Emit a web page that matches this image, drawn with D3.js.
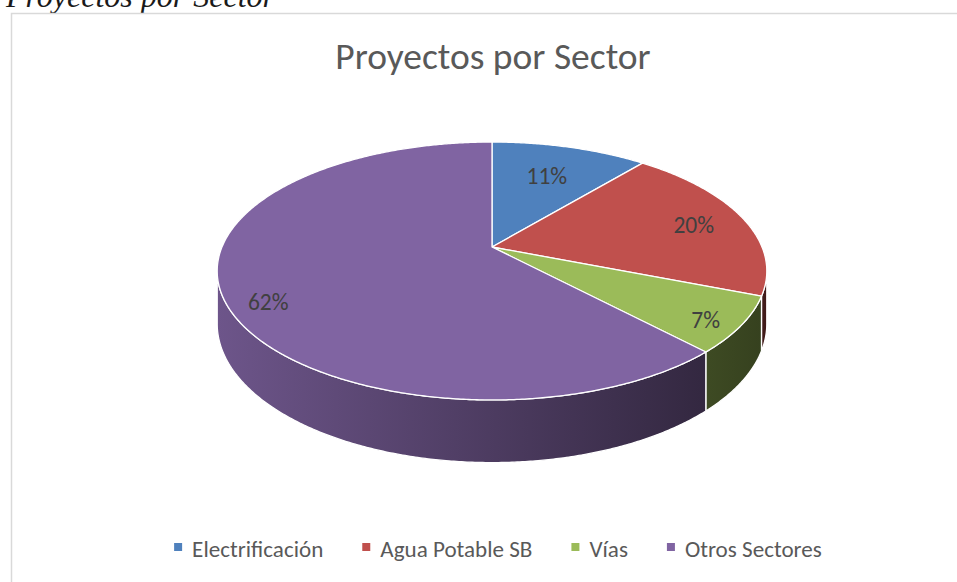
<!DOCTYPE html>
<html>
<head>
<meta charset="utf-8">
<script src="https://cdn.jsdelivr.net/npm/d3@7"></script>
<style>
  html, body { margin: 0; padding: 0; background: #fff; }
  svg { display: block; }
</style>
</head>
<body>
<svg id="chart" width="957" height="582"></svg>
<script>
(() => {
  const categories = ["Electrificación", "Agua Potable SB", "Vías", "Otros Sectores"];
  const values     = [11, 20, 7, 62];
  const colors     = ["#4f81bd", "#c0504d", "#9bbb59", "#8064a2"];
  // label placement inside the slices (fraction of radius, vertical nudge)
  const labelR  = [0.67, 0.80, 0.87, 0.84];
  const labelDy = [-1, 2, 6, 14];

  const svg = d3.select("#chart");
  const W = 957, H = 582;
  const FONT = "Carlito, Lato, 'Open Sans', sans-serif";

  // caption above the chart, cut by the top edge
  svg.append("text")
    .attr("x", 6).attr("y", 7)
    .attr("font-family", "'Liberation Serif', 'DejaVu Serif', serif")
    .attr("font-style", "italic")
    .attr("font-size", 32)
    .attr("fill", "#1a1a1a")
    .text("Proyectos por Sector");

  // chart frame (right / bottom edges fall outside the picture)
  svg.append("rect")
    .attr("x", 11.5).attr("y", 13.5)
    .attr("width", W + 20).attr("height", H + 20)
    .attr("fill", "#fff")
    .attr("stroke", "#d9d9d9")
    .attr("stroke-width", 1.5);

  svg.append("text")
    .attr("x", 493).attr("y", 69)
    .attr("text-anchor", "middle")
    .attr("font-family", FONT)
    .attr("font-size", 37.5)
    .attr("fill", "#595959")
    .text("Proyectos por Sector");

  // ---- 3D pie geometry (simple perspective) ----
  const cx = 492, cy = 247;
  const A = 270, B = 124.5;   // half axes of the unit disk
  const P = 0.186;            // perspective strength
  const DEPTH = 51;           // wall height

  const xScale = d3.scaleLinear().domain([-1, 1]).range([cx - A, cx + A]);
  const yScale = d3.scaleLinear().domain([-1, 1]).range([cy - B, cy + B]);

  function proj(a, r, h) {
    const u = -Math.cos(a) * r;
    const w = 1 / (1 - P * u);
    return [xScale(Math.sin(a) * r * w), yScale(u * w) + h * DEPTH * w];
  }

  function arcPts(a0, a1, h) {
    const n = Math.max(2, Math.ceil(Math.abs(a1 - a0) / 0.008));
    return d3.range(n + 1).map(i => proj(a0 + (a1 - a0) * i / n, 1, h));
  }

  const pie = d3.pie().sort(null).value(d => d);
  const arcs = pie(values);

  const line = d3.line().curve(d3.curveLinearClosed);

  // silhouette angles of the wall
  const sil1 = Math.acos(-P), sil2 = 2 * Math.PI - sil1;
  const wMax = 1 / Math.sqrt(1 - P * P);
  const xLeft = xScale(-wMax), xRight = xScale(wMax);

  const defs = svg.append("defs");
  arcs.forEach((d, i) => {
    const base = d3.rgb(colors[i]);
    const shade = f => d3.rgb(base.r * f, base.g * f, base.b * f).formatHex();
    const g = defs.append("linearGradient")
      .attr("id", "side" + i)
      .attr("gradientUnits", "userSpaceOnUse")
      .attr("x1", xLeft).attr("x2", xRight)
      .attr("y1", 0).attr("y2", 0);
    g.append("stop").attr("offset", 0).attr("stop-color", shade(0.85));
    g.append("stop").attr("offset", 1).attr("stop-color", shade(0.34));
  });

  // walls
  const sides = svg.append("g");
  arcs.forEach((d, i) => {
    const a0 = Math.max(d.startAngle, sil1), a1 = Math.min(d.endAngle, sil2);
    if (a1 <= a0) return;
    const pts = arcPts(a0, a1, 0).concat(arcPts(a1, a0, 1));
    sides.append("path")
      .attr("d", line(pts))
      .attr("fill", `url(#side${i})`)
      .attr("stroke", "#fff")
      .attr("stroke-width", 1.3)
      .attr("stroke-linejoin", "round");
  });

  // top faces
  const tops = svg.append("g");
  arcs.forEach((d, i) => {
    const pts = [proj(0, 0, 0)].concat(arcPts(d.startAngle, d.endAngle, 0));
    tops.append("path")
      .attr("d", line(pts))
      .attr("fill", colors[i])
      .attr("stroke", "#fff")
      .attr("stroke-width", 1.3)
      .attr("stroke-linejoin", "round");
  });

  // percentage labels
  const total = d3.sum(values);
  arcs.forEach((d, i) => {
    const mid = (d.startAngle + d.endAngle) / 2;
    const [x, y] = proj(mid, labelR[i], 0);
    svg.append("text")
      .attr("x", x).attr("y", y + labelDy[i])
      .attr("text-anchor", "middle")
      .attr("dominant-baseline", "central")
      .attr("font-family", FONT)
      .attr("font-size", 23.5)
      .attr("fill", "#404040")
      .text(Math.round(d.value / total * 100) + "%");
  });

  // legend
  const legend = svg.append("g");
  let lx = 0;
  categories.forEach((c, i) => {
    const item = legend.append("g").attr("transform", `translate(${lx},0)`);
    item.append("rect")
      .attr("x", 0).attr("y", -14)
      .attr("width", 8).attr("height", 8)
      .attr("fill", colors[i]);
    const t = item.append("text")
      .attr("x", 18).attr("y", 0)
      .attr("font-family", FONT)
      .attr("font-size", 23.1)
      .attr("fill", "#595959")
      .text(c);
    lx += 18 + t.node().getComputedTextLength() + 39;
  });
  const legW = lx - 39;
  legend.attr("transform", `translate(${498 - legW / 2},557)`);
})();
</script>
</body>
</html>
